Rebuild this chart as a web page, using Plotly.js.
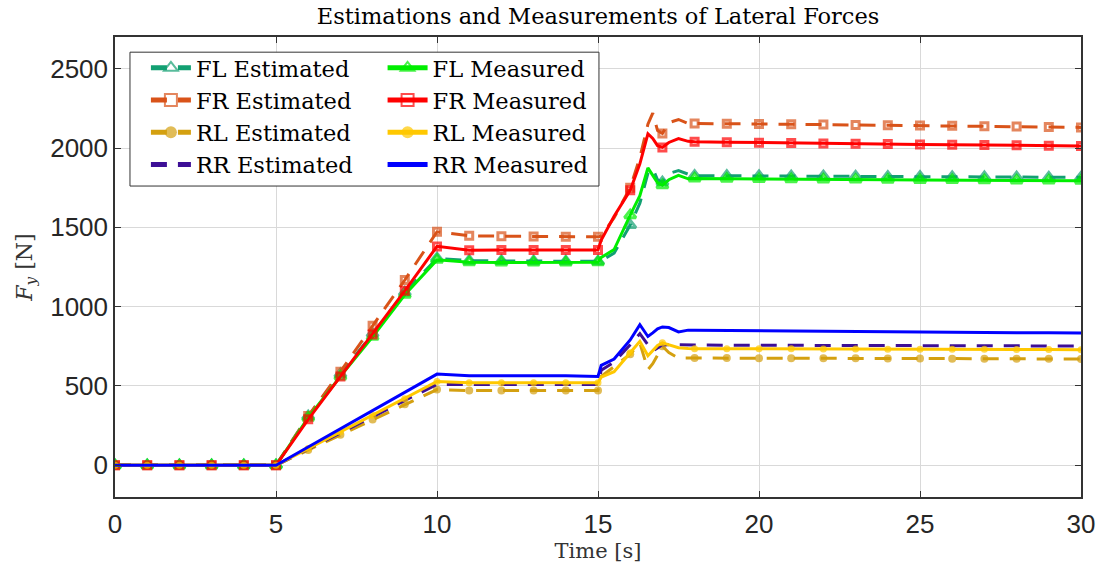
<!DOCTYPE html>
<html><head><meta charset="utf-8">
<script src="https://cdn.plot.ly/plotly-3.0.1.min.js"></script>
<style>html,body{margin:0;padding:0;background:#fff}</style>
</head><body><div id="chart" style="width:1101px;height:567px"></div>
<script>
// time stamps [s]
const time = [0,1,2,3,4,5,6,7,8,9,10,11,12,13,14,15,15.1,15.5,16,16.3,16.55,16.7,16.85,17,17.2,17.5,17.8,18,19,20,21,22,23,24,25,26,27,28,29,30];

// Lateral forces [N]
const flEst  = [0,0,0,0,0,0, 310,575,830,1090,1305, 1290,1288,1287,1286,1286, 1290,1338,1514,1652,1840,1870,1800,1785,1840,1858,1835, 1826,1825,1824,1823,1822,1821,1820,1819,1818,1817,1816,1815,1815];
const frEst  = [0,0,0,0,0,0, 310,590,879,1168,1472, 1447,1444,1442,1441,1440, 1445,1560,1750,1940,2150,2220,2110,2092,2160,2180,2155, 2154,2153,2152,2150,2148,2146,2144,2142,2140,2138,2136,2133,2130];
const rlEst  = [0,0,0,0,0,0, 96,192,288,384,477, 471,471,471,471,472, 560,620,700,770,603,640,700,750,710,676,676, 676,676,675,675,674,674,673,673,672,672,671,671,670];
const rrEst  = [0,0,0,0,0,0, 102,204,306,408,510, 510,510,510,510,510, 600,650,760,830,760,720,740,760,760,758,758, 758,757,757,756,756,755,755,754,754,753,753,752,752];
const flMeas = [0,0,0,0,0,0, 300,560,810,1075,1295, 1280,1279,1278,1278,1280, 1310,1360,1577,1700,1875,1830,1780,1765,1800,1828,1806, 1808,1806,1804,1803,1802,1801,1800,1799,1798,1797,1796,1795,1794];
const frMeas = [0,0,0,0,0,0, 290,560,825,1100,1380, 1355,1357,1357,1357,1357, 1420,1570,1734,1900,2090,2060,2015,2004,2035,2060,2042, 2040,2037,2034,2031,2029,2027,2025,2023,2021,2019,2017,2015,2013];
const rlMeas = [0,0,0,0,0,0, 105,210,315,420,528, 521,520,520,520,520, 555,590,710,781,690,720,755,772,760,741,736, 735,735,734,734,733,733,732,732,731,731,730,730,729];
const rrMeas = [0,0,0,0,0,0, 115,230,345,460,575, 565,565,565,565,560, 630,670,790,886,812,835,860,872,868,841,852, 852,850,848,846,845,843,842,840,839,838,836,835,834];

const names = ['FL Estimated','FR Estimated','RL Estimated','RR Estimated','FL Measured','FR Measured','RL Measured','RR Measured'];

function mk(name, y, color, dash, symbol, msize, open, legend) {
  const tr = {x: time, y: y, name: name, legend: legend, type: 'scatter',
    mode: symbol ? 'lines+markers' : 'lines',
    line: {color: color, width: 3, dash: dash}};
  if (symbol) {
    const sizes = time.map(t => Number.isInteger(t) ? msize : 0);
    tr.marker = {symbol: symbol, size: sizes, color: color,
      line: {color: color, width: open ? sizes.map(s => s ? 3 : 0) : 0}};
  }
  return tr;
}
const dsh = '16px,11px';
const data = [
  mk(names[0], flEst, '#12a072', dsh, 'triangle-up-open', 10, true, 'legend'),
  mk(names[1], frEst, '#d95319', dsh, 'square-open', 7, true, 'legend'),
  mk(names[2], rlEst, '#d4a010', dsh, 'circle', 8, false, 'legend'),
  mk(names[3], rrEst, '#3d0f96', dsh, null, 0, false, 'legend'),
  mk(names[4], flMeas, '#00ee00', 'solid', 'triangle-up-open', 10, true, 'legend2'),
  mk(names[5], frMeas, '#ff0000', 'solid', 'square-open', 7, true, 'legend2'),
  mk(names[6], rlMeas, '#ffc800', 'solid', 'circle', 7, false, 'legend2'),
  mk(names[7], rrMeas, '#0000ff', 'solid', null, 0, false, 'legend2')
];

const serif = 'DejaVu Serif, serif';
const legFont = {family: serif, size: 22.5, color: '#000'};
const tickFont = {family: 'Liberation Sans, Arial, sans-serif', size: 26, color: '#262626'};
const layout = {
  width: 1101, height: 567,
  margin: {l: 115, r: 20, t: 37, b: 70},
  paper_bgcolor: '#fff', plot_bgcolor: '#fff',
  title: {text: 'Estimations and Measurements of Lateral Forces', x: 0.5, xref: 'paper', y: 0.972, yanchor: 'middle',
          font: {family: serif, size: 22.5, color: '#000'}},
  xaxis: {range: [0, 30], dtick: 5, tick0: 0, showgrid: true, gridcolor: '#d9d9d9', gridwidth: 1,
          zeroline: false, showline: true, linecolor: '#333', linewidth: 1.5, mirror: 'ticks',
          ticks: 'inside', ticklen: 6, tickcolor: '#333', tickfont: tickFont, ticklabelstandoff: 3,
          title: {text: 'Time [s]', standoff: 0, font: {family: serif, size: 21, color: '#333'}}},
  yaxis: {range: [-200, 2700], tickvals: [0, 500, 1000, 1500, 2000, 2500], showgrid: true, gridcolor: '#d9d9d9', gridwidth: 1,
          zeroline: false, showline: true, linecolor: '#333', linewidth: 1.5, mirror: 'ticks',
          ticks: 'inside', ticklen: 6, tickcolor: '#333', tickfont: tickFont,
          title: {text: '<i>F</i><sub><i>y</i></sub> [N]', standoff: 12, font: {family: serif, size: 22, color: '#333'}}},
  legend: {x: 0.032, y: 0.979, xanchor: 'left', yanchor: 'top', bgcolor: 'rgba(0,0,0,0)', borderwidth: 0,
           font: legFont, itemsizing: 'constant', itemwidth: 40, tracegroupgap: 0},
  legend2: {x: 0.277, y: 0.979, xanchor: 'left', yanchor: 'top', bgcolor: 'rgba(0,0,0,0)', borderwidth: 0,
           font: legFont, itemsizing: 'constant', itemwidth: 40, tracegroupgap: 0},
  shapes: [{type: 'rect', xref: 'paper', yref: 'paper', x0: 0.0155, x1: 0.501, y0: 0.676, y1: 0.967,
            fillcolor: '#fff', line: {color: '#333', width: 1}, layer: 'above'}],
  showlegend: true
};
Plotly.newPlot('chart', data, layout, {displayModeBar: false, responsive: false});
</script></body></html>
